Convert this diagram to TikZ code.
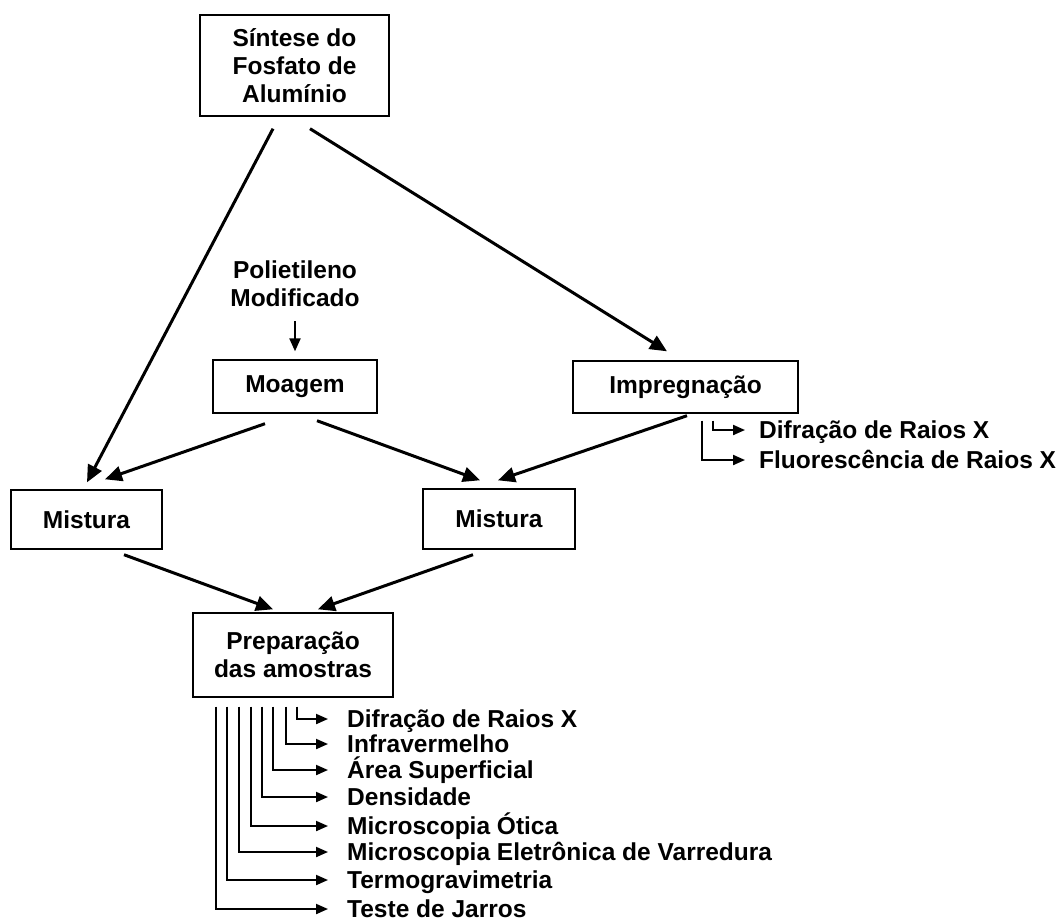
\documentclass[tikz,border=0pt]{standalone}
\usepackage{fontspec}
\setmainfont{Liberation Sans}
\usetikzlibrary{arrows.meta}

\begin{document}
\begin{tikzpicture}[x=1pt, y=-1pt,
  txt/.style={font=\bfseries\fontsize{24.5}{28}\selectfont},
  box/.style={txt, draw, line width=1.4pt, inner sep=0pt, align=center},
  lbl/.style={txt, inner sep=0pt, align=center},
  item/.style={txt, anchor=west, inner sep=0pt, text height=17pt, text depth=0pt},
  arr/.style={line width=3pt, -{Triangle[length=17pt, width=15pt]}},
  midarr/.style={line width=2.2pt, -{Triangle[length=13pt, width=11pt]}},
  brarr/.style={line width=2pt, -{Triangle[length=12pt, width=10pt]}}]

  \useasboundingbox (0,0) rectangle (1064,922);

  % caixas
  \node[box, minimum width=189pt, minimum height=101pt] (sint) at (294.5,65.5) {Síntese do\\Fosfato de\\Alumínio};
  \node[lbl] (polie) at (295,284) {Polietileno\\Modificado};
  \node[box, minimum width=164pt, minimum height=53pt] (moag) at (295,386.5) {Moagem};
  \node[box, minimum width=225pt, minimum height=52pt] (impr) at (685.5,387) {Impregnação};
  \node[box, minimum width=151pt, minimum height=59pt] (mistA) at (86.5,519.5) {Mistura};
  \node[box, minimum width=152pt, minimum height=60pt] (mistB) at (499,519) {Mistura};
  \node[box, minimum width=200pt, minimum height=84pt] (prep) at (293,655) {Preparação\\das amostras};

  % ensaios da impregnacao
  \node[item] (imprDRX) at (759,430) {Difração de Raios X};
  \node[item] (imprFRX) at (759,460) {Fluorescência de Raios X};

  % ensaios das amostras
  \node[item] (drx)  at (347,719) {Difração de Raios X};
  \node[item] (iv)   at (347,744) {Infravermelho};
  \node[item] (area) at (347,770) {Área Superficial};
  \node[item] (dens) at (347,797) {Densidade};
  \node[item] (mo)   at (347,826) {Microscopia Ótica};
  \node[item] (mev)  at (347,852) {Microscopia Eletrônica de Varredura};
  \node[item] (tg)   at (347,880) {Termogravimetria};
  \node[item] (jar)  at (347,909) {Teste de Jarros};

  % fluxo principal
  \draw[arr] ([xshift=-21.5pt, yshift=-12pt]sint.south) -- ([xshift=0.5pt, yshift=7pt]mistA.north); % sint -> mistA
  \draw[arr] ([xshift=15.5pt, yshift=-12pt]sint.south) -- ([xshift=-18.5pt, yshift=9pt]impr.north); % sint -> impr
  \draw[midarr] ([yshift=-14pt]polie.south) -- ([yshift=8pt]moag.north); % polie -> moag
  \draw[arr] ([xshift=-30pt, yshift=-10pt]moag.south) -- ([xshift=18.5pt, yshift=10pt]mistA.north); % moag -> mistA
  \draw[arr] ([xshift=22pt, yshift=-7pt]moag.south) -- ([xshift=-19pt, yshift=8pt]mistB.north); % moag -> mistB
  \draw[arr] ([xshift=1.5pt, yshift=-2pt]impr.south) -- ([xshift=-1pt, yshift=8pt]mistB.north); % impr -> mistB
  \draw[arr] ([xshift=37.5pt, yshift=-5pt]mistA.south) -- ([xshift=-20pt, yshift=3pt]prep.north); % mistA -> prep
  \draw[arr] ([xshift=-26pt, yshift=-5pt]mistB.south) -- ([xshift=25pt, yshift=3pt]prep.north); % mistB -> prep

  % ramos da impregnacao
  \draw[brarr] ([xshift=27.5pt, yshift=-7pt]impr.south) |- ([xshift=-14pt]imprDRX.west);
  \draw[brarr] ([xshift=16.5pt, yshift=-7pt]impr.south) |- ([xshift=-14pt]imprFRX.west);

  % ramos da preparacao
  \draw[brarr] ([xshift=4pt, yshift=-9pt]prep.south) |- ([xshift=-19pt]drx.west);
  \draw[brarr] ([xshift=-7pt, yshift=-9pt]prep.south) |- ([xshift=-19pt]iv.west);
  \draw[brarr] ([xshift=-20pt, yshift=-9pt]prep.south) |- ([xshift=-19pt]area.west);
  \draw[brarr] ([xshift=-31pt, yshift=-9pt]prep.south) |- ([xshift=-19pt]dens.west);
  \draw[brarr] ([xshift=-42pt, yshift=-9pt]prep.south) |- ([xshift=-19pt]mo.west);
  \draw[brarr] ([xshift=-54pt, yshift=-9pt]prep.south) |- ([xshift=-19pt]mev.west);
  \draw[brarr] ([xshift=-66pt, yshift=-9pt]prep.south) |- ([xshift=-19pt]tg.west);
  \draw[brarr] ([xshift=-77pt, yshift=-9pt]prep.south) |- ([xshift=-19pt]jar.west);

\end{tikzpicture}
\end{document}
